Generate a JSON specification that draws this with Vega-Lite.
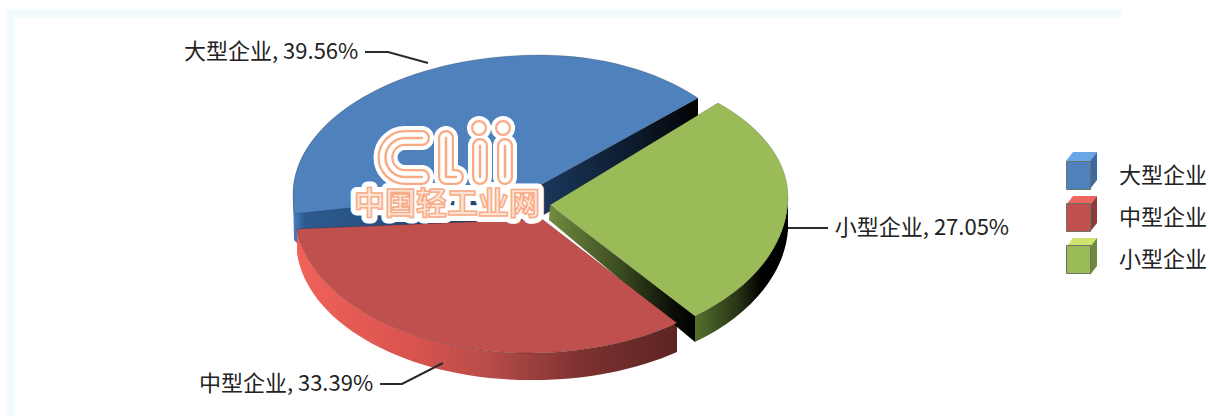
{
"$schema":"https://vega.github.io/schema/vega-lite/v6.json",
"width":1090,"height":402,
"autosize":{"type":"none"},
"padding":{"left":0,"top":14,"right":118,"bottom":0},
"background":"#ffffff",
"config":{"view":{"stroke":null}},
"datasets":{"shares":[
{"企业":"大型企业","占比":39.56,"标签":"大型企业, 39.56%"},
{"企业":"中型企业","占比":33.39,"标签":"中型企业, 33.39%"},
{"企业":"小型企业","占比":27.05,"标签":"小型企业, 27.05%"}]},
"data":{"name":"shares"},
"resolve":{"scale":{"shape":"independent"}},
"layer":[
{"data":{"values":[{"part":"frame"}]},"mark":{"type":"point","filled":true,"opacity":1,"size":4,"fill":"#f4fbff","strokeWidth":0,"shape":"M-538 -206 L577 -206 L577 -197 L-530 -197 L-530 201 L-538 201 Z"}},
{"transform":[{"filter":"datum['企业']==='大型企业'"}],"mark":{"type":"point","filled":true,"opacity":1,"size":4,"strokeWidth":0,"shape":"M-252 -20 L-10 -27 L153 -117 L153 -90 L-10 5 L-248 28 L-251 25 Z","fill":{"gradient":"linear","x1":0,"x2":1,"y1":0,"y2":0,"stops":[{"offset":0,"color":"#4a80c4"},{"offset":0.03,"color":"#2d5a8e"},{"offset":0.55,"color":"#1e3f6a"},{"offset":0.85,"color":"#0c1a2a"},{"offset":1,"color":"#020304"}]}}},
{"transform":[{"filter":"datum['企业']==='中型企业'"}],"mark":{"type":"point","filled":true,"opacity":1,"size":4,"strokeWidth":0,"shape":"M132 108 A237 139 0 0 1 -15 138 A234 139 0 0 1 -248 14 L-248 38 A234 139 0 0 0 -15 165 A237 139 0 0 0 132 137 Z","fill":{"gradient":"linear","x1":0,"x2":1,"y1":0,"y2":0,"stops":[{"offset":0,"color":"#f0625a"},{"offset":0.3,"color":"#d9544f"},{"offset":0.5,"color":"#b84c48"},{"offset":0.75,"color":"#7c3230"},{"offset":1,"color":"#5c2422"}]}}},
{"transform":[{"filter":"datum['企业']==='小型企业'"}],"mark":{"type":"point","filled":true,"opacity":1,"size":4,"strokeWidth":0,"shape":"M5 -10 L150 101 L150 127 L4 5 Z","fill":{"gradient":"linear","x1":0,"x2":1,"y1":0,"y2":0,"stops":[{"offset":0,"color":"#718c40"},{"offset":0.5,"color":"#3a4a20"},{"offset":0.85,"color":"#0a0e05"},{"offset":1,"color":"#000000"}]}}},
{"transform":[{"filter":"datum['企业']==='小型企业'"}],"mark":{"type":"point","filled":true,"opacity":1,"size":4,"strokeWidth":0,"shape":"M150 101 A238 150 0 0 0 243 -18 L243 15 A238 150 0 0 1 150 127 Z","fill":{"gradient":"linear","x1":0,"x2":1,"y1":0,"y2":0,"stops":[{"offset":0,"color":"#55702e"},{"offset":0.45,"color":"#2a3616"},{"offset":0.72,"color":"#000000"},{"offset":1,"color":"#000000"}]}}},
{"mark":{"type":"point","filled":true,"opacity":1,"size":4,"stroke":"#000000","strokeOpacity":0.22,"strokeWidth":0.8},
 "encoding":{
  "color":{"field":"企业","type":"nominal","scale":{"domain":["大型企业","中型企业","小型企业"],"range":["#4f81bd","#c0504d","#9bbb59"]},
   "legend":{"title":null,"orient":"none","legendX":1064,"legendY":147,"padding":0,"symbolType":"M-0.857 -1 L0.857 -1 L0.857 1 L-0.857 1 Z","symbolSize":784,"symbolOpacity":1,"symbolStrokeColor":"#6b7466","symbolStrokeWidth":1,"rowPadding":9,"labelOffset":26,"labelFontSize":22,"labelFont":"Noto Sans CJK SC","labelColor":"#222222","labelLimit":200}},
  "shape":{"field":"企业","type":"nominal","legend":null,"scale":{"domain":["大型企业","中型企业","小型企业"],"range":[
   "M-10 -27 L153 -117 A219 140 0 0 0 -5 -160 A247 140 0 0 0 -252 -20 L-251 -1 Z",
   "M-3 4 L132 108 A237 139 0 0 1 -15 138 A234 139 0 0 1 -248 14 Z",
   "M5 -10 L173 -112 A238 133 0 0 1 243 -18 A238 150 0 0 1 150 101 Z"]}}
 }},
{"mark":{"type":"point","filled":false,"opacity":1,"size":4,"stroke":"#2a2a2a","strokeWidth":2},
 "encoding":{"shape":{"field":"企业","type":"nominal","legend":null,"scale":{"domain":["大型企业","中型企业","小型企业"],"range":[
   "M-180 -163 L-157 -163 L-117 -152",
   "M-165 169 L-143 169 L-102 148",
   "M243 13 L283 13"]}}}},
{"mark":{"type":"text","font":"Noto Sans CJK SC","fontSize":22,"color":"#222222","align":"center","baseline":"middle"},
 "encoding":{
  "text":{"field":"标签","type":"nominal"},
  "theta":{"field":"占比","type":"quantitative","stack":null,"scale":{"domain":[27.05,33.39,39.56],"range":[1.605,4.134,5.25]}},
  "radius":{"field":"占比","type":"quantitative","scale":{"zero":false,"nice":false,"domain":[27.05,33.39,39.56],"range":[377.2,309.3,318.8]}}
 }},
{"data":{"values":[{"part":"legendTop","c":"blue"}]},"mark":{"type":"point","filled":true,"opacity":1,"size":4,"fill":"#6aa6e6","strokeWidth":0,"shape":"M521 -54 L528 -63 L552 -63 L545 -54 Z"}},
{"data":{"values":[{"part":"legendSide","c":"blue"}]},"mark":{"type":"point","filled":true,"opacity":1,"size":4,"fill":"#3a6aa0","strokeWidth":0,"shape":"M545 -54 L552 -63 L552 -35 L545 -26 Z"}},
{"data":{"values":[{"part":"legendTop","c":"red"}]},"mark":{"type":"point","filled":true,"opacity":1,"size":4,"fill":"#ee6660","strokeWidth":0,"shape":"M521 -10 L528 -19 L552 -19 L545 -10 Z"}},
{"data":{"values":[{"part":"legendSide","c":"red"}]},"mark":{"type":"point","filled":true,"opacity":1,"size":4,"fill":"#8e3a38","strokeWidth":0,"shape":"M545 -10 L552 -19 L552 8 L545 17 Z"}},
{"data":{"values":[{"part":"legendTop","c":"green"}]},"mark":{"type":"point","filled":true,"opacity":1,"size":4,"fill":"#cfe56f","strokeWidth":0,"shape":"M521 32 L528 23 L552 23 L545 32 Z"}},
{"data":{"values":[{"part":"legendSide","c":"green"}]},"mark":{"type":"point","filled":true,"opacity":1,"size":4,"fill":"#6e8a3f","strokeWidth":0,"shape":"M545 32 L552 23 L552 51 L545 60 Z"}},
{"data":{"values":[{"站点":"中国轻工业网"}]},"mark":{"type":"text","font":"Noto Sans CJK SC","fontWeight":"bold","fontSize":31,"dx":-98,"dy":-10,"align":"center","baseline":"middle","fill":"#ffffff","stroke":"#ffffff","strokeWidth":12,"strokeJoin":"round"},"encoding":{"text":{"field":"站点","type":"nominal"}}},
{"data":{"values":[{"part":"logo"}]},"mark":{"type":"point","filled":false,"opacity":1,"size":4,"stroke":"#ffffff","strokeWidth":24,"strokeCap":"round","strokeJoin":"round","shape":"M-123 -77 H-140 A19.5 19.5 0 0 0 -140 -38 H-123 M-99 -77 V-38 H-89 M-65 -69 V-38 M-66 -87 l0.1 0 M-40 -69 V-38 M-42 -87 l0.1 0"}},
{"data":{"values":[{"part":"logo"}]},"mark":{"type":"point","filled":false,"opacity":1,"size":4,"stroke":"#f8ab85","strokeWidth":16,"strokeCap":"round","strokeJoin":"round","shape":"M-123 -77 H-140 A19.5 19.5 0 0 0 -140 -38 H-123 M-99 -77 V-38 H-89 M-65 -69 V-38 M-66 -87 l0.1 0 M-40 -69 V-38 M-42 -87 l0.1 0"}},
{"data":{"values":[{"part":"logo"}]},"mark":{"type":"point","filled":false,"opacity":1,"size":4,"stroke":"#ffffff","strokeWidth":11.5,"strokeCap":"round","strokeJoin":"round","shape":"M-123 -77 H-140 A19.5 19.5 0 0 0 -140 -38 H-123 M-99 -77 V-38 H-89 M-65 -69 V-38 M-66 -87 l0.1 0 M-40 -69 V-38 M-42 -87 l0.1 0"}},
{"data":{"values":[{"part":"logo"}]},"mark":{"type":"point","filled":false,"opacity":1,"size":4,"stroke":"#f8ab85","strokeWidth":2.5,"strokeCap":"round","strokeJoin":"round","shape":"M-123 -77 H-140 A19.5 19.5 0 0 0 -140 -38 H-123 M-99 -77 V-38 H-89 M-65 -69 V-38 M-40 -69 V-38"}},
{"data":{"values":[{"站点":"中国轻工业网"}]},"mark":{"type":"text","font":"Noto Sans CJK SC","fontWeight":"bold","fontSize":31,"dx":-98,"dy":-10,"align":"center","baseline":"middle","fill":"#fde3d6","stroke":"#f8ab85","strokeWidth":1.5},"encoding":{"text":{"field":"站点","type":"nominal"}}}
]
}
